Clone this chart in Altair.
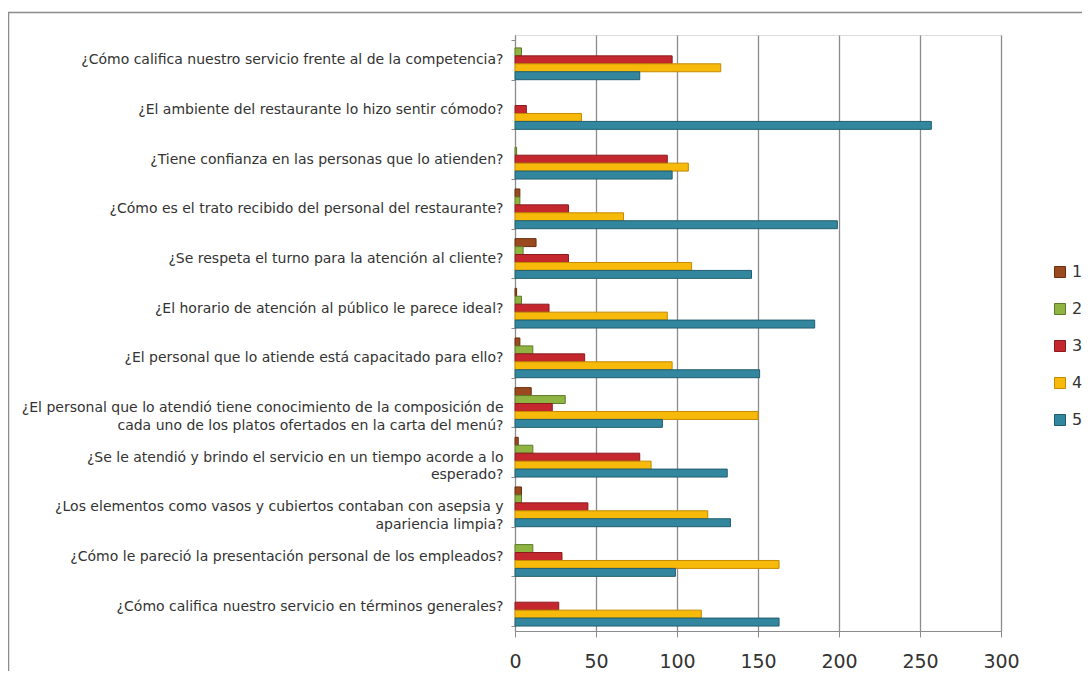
import altair as alt
import pandas as pd

questions = [
    "¿Cómo califica nuestro servicio frente al de la competencia?",
    "¿El ambiente del restaurante lo hizo sentir cómodo?",
    "¿Tiene confianza en las personas que lo atienden?",
    "¿Cómo es el trato recibido del personal del restaurante?",
    "¿Se respeta el turno para la atención al cliente?",
    "¿El horario de atención al público le parece ideal?",
    "¿El personal que lo atiende está capacitado para ello?",
    "¿El personal que lo atendió tiene conocimiento de la composición de\ncada uno de los platos ofertados en la carta del menú?",
    "¿Se le atendió y brindo el servicio en un tiempo acorde a lo\nesperado?",
    "¿Los elementos como vasos y cubiertos contaban con asepsia y\napariencia limpia?",
    "¿Cómo le pareció la presentación personal de los empleados?",
    "¿Cómo califica nuestro servicio en términos generales?",
]

series_names = ["1", "2", "3", "4", "5"]
s1 = [0, 0, 0, 3, 13, 1, 3, 10, 2, 4, 0, 0]
s2 = [4, 0, 1, 3, 5, 4, 11, 31, 11, 4, 11, 0]
s3 = [97, 7, 94, 33, 33, 21, 43, 23, 77, 45, 29, 27]
s4 = [127, 41, 107, 67, 109, 94, 97, 150, 84, 119, 163, 115]
s5 = [77, 257, 97, 199, 146, 185, 151, 91, 131, 133, 99, 163]

fill_colors = ["#9A4A1E", "#8FB442", "#C4282E", "#F7B90A", "#32879E"]
stroke_colors = ["#6B2E0E", "#5E7A2A", "#8B1A1F", "#C48A00", "#215E6F"]

rows = []
for name, vals in zip(series_names, [s1, s2, s3, s4, s5]):
    for q, v in zip(questions, vals):
        rows.append({"pregunta": q, "serie": name, "valor": v})
df = pd.DataFrame(rows)

font = "DejaVu Sans"

bars = alt.Chart(df).transform_filter("datum.valor > 0").mark_bar(strokeWidth=1).encode(
    x=alt.X("valor:Q",
            scale=alt.Scale(domain=[0, 300], nice=False),
            axis=alt.Axis(values=[0, 50, 100, 150, 200, 250, 300], title=None,
                          grid=True, gridColor="#8c8c8c", gridWidth=1.3,
                          domainColor="#8c8c8c", tickColor="#8c8c8c", tickSize=6,
                          labelFontSize=19, labelColor="#333333", labelFont=font,
                          labelPadding=15, labelFlush=False)),
    y=alt.Y("pregunta:N", sort=questions,
            scale=alt.Scale(domain=questions, paddingInner=0.2, paddingOuter=0.1),
            axis=alt.Axis(title=None, grid=False, tickBand="extent",
                          domainColor="#8c8c8c", tickColor="#8c8c8c", tickSize=4,
                          labelPadding=8, labelLimit=0, labelFont=font,
                          labelFontSize=14, labelColor="#333333", labelLineHeight=17.5,
                          labelExpr="split(datum.label, '\\n')")),
    yOffset=alt.YOffset("serie:N", scale=alt.Scale(domain=series_names)),
    color=alt.Color("serie:N",
                    scale=alt.Scale(domain=series_names, range=fill_colors),
                    legend=alt.Legend(title=None, orient="none", legendX=537, legendY=229,
                                      symbolType="square", symbolSize=121,
                                      symbolStrokeWidth=1, symbolStrokeColor="#666666",
                                      labelFontSize=16, labelFont=font, labelColor="#333333",
                                      rowPadding=21, labelOffset=4)),
    stroke=alt.Stroke("serie:N",
                      scale=alt.Scale(domain=series_names, range=stroke_colors),
                      legend=None),
)

frame_df = pd.DataFrame({"k": [0]})
frame = alt.Chart(frame_df).mark_rect(filled=False, stroke="#8c8c8c", strokeWidth=1.5).encode(
    x=alt.value(-506.5), x2=alt.value(700), y=alt.value(-22.5), y2=alt.value(800)
)

chart = alt.layer(frame, bars).properties(
    width=486, height=596,
    padding={"left": 507, "top": 27, "right": 81, "bottom": 40},
    autosize=alt.AutoSizeParams(type="none"),
).configure_view(fill="#E7E7E7", stroke=None).configure(background="white")

chart.save("out.html", embed_options={"renderer": "svg", "actions": False})
